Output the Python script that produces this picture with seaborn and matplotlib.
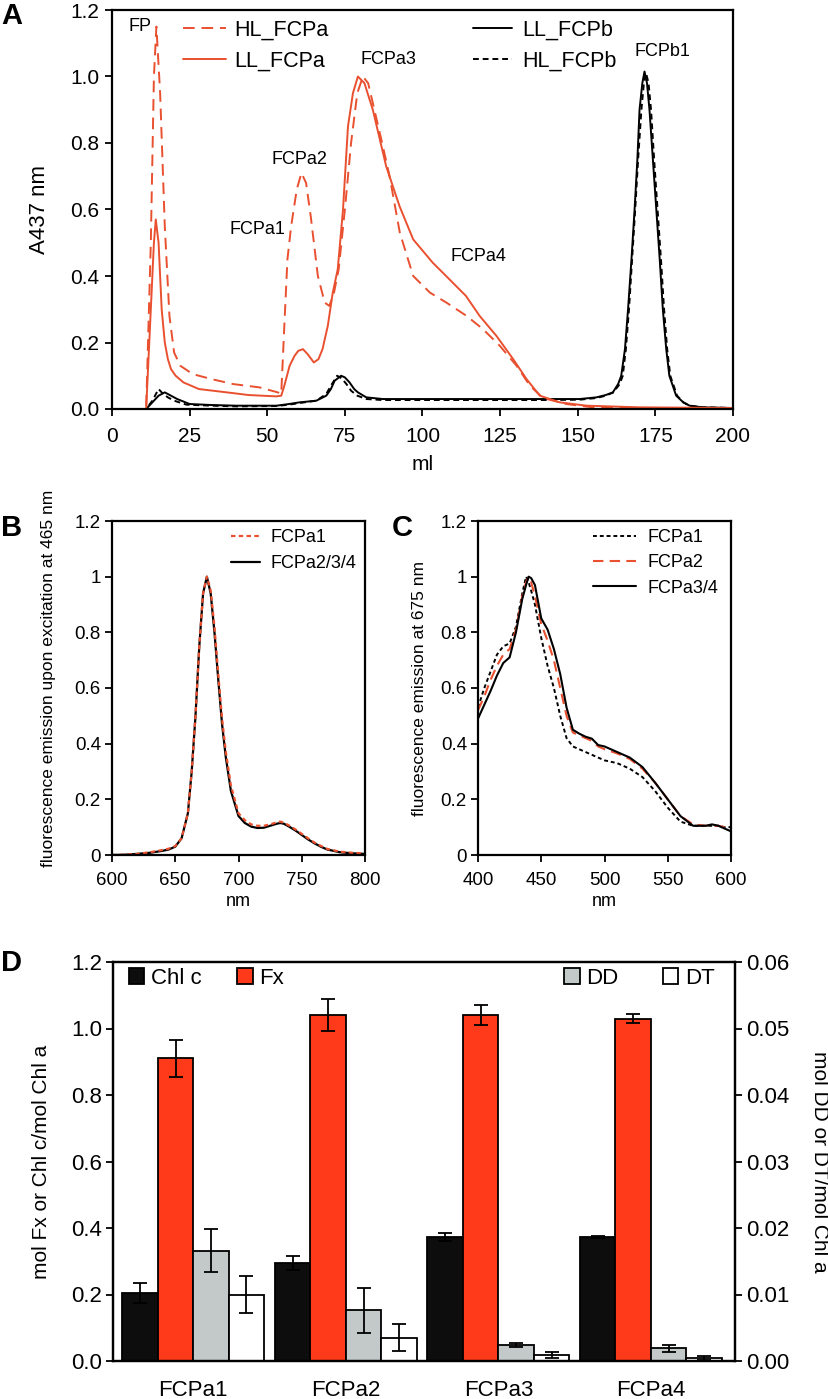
import numpy as np
import pandas as pd
import matplotlib
matplotlib.use("Agg")
import matplotlib.pyplot as plt
import seaborn as sns
from matplotlib.lines import Line2D
from matplotlib.patches import Patch
from matplotlib.ticker import FormatStrFormatter, MultipleLocator

# ---------------- panel A: elution profiles (A437 vs ml) ----------------
hl_fcpa_ml = [0, 11, 12.5, 13.5, 14.3, 15.5, 17, 18.5, 20, 22, 26, 32, 39, 47.5, 53.4, 54.5,
              55.5, 56.5, 57.7, 59.5, 61, 62.5, 64, 66.3, 68.5, 70, 71.5, 73, 75, 77, 79, 80.8,
              82.5, 84.5, 87, 89.4, 92.7, 97, 102.4, 107.7, 114.2, 119.5, 124.9, 130.3, 134.6,
              138.8, 146.3, 154.9, 170, 200]
hl_fcpa_abs = [0, 0, 0.5, 1.0, 1.15, 0.95, 0.55, 0.28, 0.17, 0.13, 0.105, 0.09, 0.075, 0.065,
               0.05, 0.045, 0.25, 0.45, 0.55, 0.66, 0.71, 0.68, 0.58, 0.40, 0.32, 0.31, 0.35,
               0.42, 0.6, 0.8, 0.95, 1.0, 0.98, 0.9, 0.8, 0.7, 0.53, 0.40, 0.35, 0.32, 0.28,
               0.24, 0.19, 0.13, 0.07, 0.033, 0.015, 0.005, 0.003, 0.003]

ll_fcpa_ml = [0, 11, 12.5, 13.5, 14.1, 15, 16, 17, 18, 19, 20.5, 23, 28, 37, 44, 52.9, 54.5,
              55.5, 57.2, 58.8, 60, 61.5, 63, 65, 66.5, 67.8, 69.5, 71.1, 72.7, 74.4, 76, 77.6,
              79.2, 81.3, 84, 88.3, 92.6, 97, 103.3, 107.6, 114, 118.4, 123.8, 129.2, 133.5,
              137.8, 144.2, 152.8, 170, 200]
ll_fcpa_abs = [0, 0, 0.3, 0.5, 0.57, 0.5, 0.3, 0.2, 0.15, 0.12, 0.1, 0.08, 0.06, 0.05, 0.042,
               0.038, 0.04, 0.07, 0.13, 0.16, 0.175, 0.18, 0.165, 0.14, 0.15, 0.18, 0.25, 0.35,
               0.42, 0.6, 0.85, 0.95, 1.0, 0.98, 0.9, 0.73, 0.61, 0.51, 0.44, 0.40, 0.34, 0.28,
               0.22, 0.15, 0.09, 0.04, 0.02, 0.01, 0.005, 0.003]

ll_fcpb_ml = [0, 11, 13, 15, 17, 19, 21, 25, 32, 40, 53, 57, 60.4, 65.8, 69, 70.5, 71.7, 73.8,
              75, 76.5, 78, 79.2, 81.9, 87.2, 100, 120, 140, 150.6, 156, 159, 161.3, 163, 164,
              165.2, 166.2, 167.3, 168.3, 169.2, 169.9, 170.8, 171.5, 172.3, 173.1, 174.2,
              175.3, 176.4, 177.4, 178.5, 179.5, 181.7, 184, 186, 190.3, 200]
ll_fcpb_abs = [0, 0, 0.02, 0.04, 0.05, 0.04, 0.03, 0.015, 0.012, 0.01, 0.01, 0.015, 0.02, 0.025,
               0.04, 0.06, 0.085, 0.1, 0.095, 0.08, 0.06, 0.05, 0.035, 0.03, 0.03, 0.03, 0.03,
               0.03, 0.035, 0.042, 0.05, 0.075, 0.1, 0.18, 0.3, 0.45, 0.6, 0.75, 0.9, 0.98,
               1.015, 0.98, 0.9, 0.75, 0.6, 0.45, 0.3, 0.18, 0.1, 0.04, 0.02, 0.01, 0.005, 0.003]

hl_fcpb_ml = [0, 11, 13, 15, 16.5, 18, 20, 24, 32, 40, 53, 57, 60.4, 65.8, 69, 70.5, 72.5, 74,
              75.5, 77, 79, 82, 87, 100, 120, 140, 150.6, 156, 159, 161.5, 163.5, 164.5, 165.5,
              166.5, 167.5, 168.5, 169.5, 170.5, 171.3, 172, 172.8, 173.6, 174.6, 175.7, 176.8,
              177.8, 178.8, 179.8, 182, 184, 186, 190.3, 200]
hl_fcpb_abs = [0, 0, 0.025, 0.06, 0.045, 0.035, 0.025, 0.013, 0.01, 0.008, 0.009, 0.013, 0.018,
               0.025, 0.045, 0.07, 0.1, 0.092, 0.075, 0.055, 0.04, 0.03, 0.027, 0.027, 0.027,
               0.027, 0.028, 0.033, 0.04, 0.05, 0.075, 0.1, 0.18, 0.3, 0.45, 0.6, 0.76, 0.9,
               0.98, 1.01, 0.98, 0.9, 0.75, 0.6, 0.45, 0.3, 0.18, 0.1, 0.04, 0.02, 0.01, 0.005,
               0.003]

peak_names = ["FP", "FCPa1", "FCPa2", "FCPa3", "FCPa4", "FCPb1"]
peak_ml = [9.0, 47.0, 60.5, 89.0, 118.0, 177.4]
peak_abs = [1.15, 0.54, 0.75, 1.05, 0.46, 1.075]

# ---------------- panel B: emission spectra (excitation 465 nm) ----------------
em_nm = [600, 610, 620, 630, 640, 645, 650, 655, 660, 663, 666, 669, 672, 675, 678, 681, 684,
         687, 690, 694, 700, 705, 710, 715, 720, 725, 730, 733, 736, 740, 745, 750, 755, 760,
         765, 770, 780, 790, 800]
em_fcpa234 = [0, 0.001, 0.004, 0.008, 0.015, 0.02, 0.03, 0.06, 0.15, 0.3, 0.5, 0.75, 0.94, 1.0,
              0.94, 0.8, 0.63, 0.47, 0.35, 0.23, 0.14, 0.115, 0.102, 0.097, 0.098, 0.105, 0.112,
              0.115, 0.112, 0.102, 0.088, 0.072, 0.056, 0.042, 0.03, 0.02, 0.01, 0.006, 0.004]
em_fcpa1 = [0, 0.001, 0.004, 0.01, 0.018, 0.023, 0.032, 0.06, 0.15, 0.3, 0.5, 0.75, 0.94, 1.0,
            0.95, 0.82, 0.65, 0.49, 0.37, 0.25, 0.15, 0.125, 0.11, 0.105, 0.105, 0.11, 0.117,
            0.12, 0.116, 0.106, 0.092, 0.076, 0.06, 0.045, 0.033, 0.022, 0.012, 0.008, 0.006]

# ---------------- panel C: excitation spectra (emission 675 nm) ----------------
ex_nm = [400, 405, 410, 415, 420, 425, 430, 435, 438, 440, 442, 445, 450, 455, 460, 465, 470,
         475, 480, 485, 490, 495, 500, 510, 520, 530, 540, 550, 560, 570, 580, 585, 590, 595, 600]
ex_fcpa34 = [0.49, 0.54, 0.59, 0.645, 0.69, 0.71, 0.8, 0.92, 0.97, 1.0, 0.995, 0.97, 0.85, 0.81,
             0.74, 0.65, 0.53, 0.45, 0.436, 0.425, 0.418, 0.395, 0.39, 0.37, 0.35, 0.316, 0.26,
             0.2, 0.14, 0.105, 0.105, 0.11, 0.105, 0.095, 0.085]
ex_fcpa2 = [0.52, 0.57, 0.63, 0.68, 0.72, 0.74, 0.81, 0.93, 0.98, 1.0, 0.98, 0.93, 0.83, 0.77,
            0.7, 0.6, 0.5, 0.44, 0.43, 0.42, 0.41, 0.39, 0.38, 0.365, 0.345, 0.31, 0.26, 0.2,
            0.14, 0.11, 0.105, 0.105, 0.105, 0.1, 0.095]
ex_fcpa1 = [0.53, 0.6, 0.66, 0.72, 0.75, 0.76, 0.82, 0.94, 1.0, 0.98, 0.95, 0.9, 0.78, 0.68,
            0.6, 0.5, 0.42, 0.39, 0.38, 0.37, 0.36, 0.35, 0.34, 0.33, 0.31, 0.28, 0.23, 0.17,
            0.12, 0.105, 0.105, 0.105, 0.105, 0.1, 0.1]

# ---------------- panel D: pigment ratios ----------------
fractions = ["FCPa1", "FCPa2", "FCPa3", "FCPa4"]
chl_c = [0.205, 0.295, 0.373, 0.373]
chl_c_err = [0.03, 0.022, 0.013, 0.004]
fx = [0.91, 1.04, 1.04, 1.03]
fx_err = [0.055, 0.048, 0.03, 0.013]
dd = [0.0166, 0.00765, 0.00235, 0.0019]        # right axis
dd_err = [0.0032, 0.0034, 0.0003, 0.0005]
dt = [0.0100, 0.0035, 0.0009, 0.0005]          # right axis
dt_err = [0.0028, 0.0020, 0.0005, 0.0003]

RED = "#e9502f"
FX_RED = "#ff3a1a"

sns.set_theme(style="ticks")
plt.rcParams["font.family"] = ["Liberation Sans", "DejaVu Sans"]
plt.rcParams["axes.linewidth"] = 1.6
plt.rcParams["xtick.major.width"] = 1.3
plt.rcParams["ytick.major.width"] = 1.3
plt.rcParams["xtick.major.size"] = 5
plt.rcParams["ytick.major.size"] = 5
plt.rcParams["xtick.direction"] = "out"
plt.rcParams["ytick.direction"] = "out"
plt.rcParams["axes.edgecolor"] = "black"
plt.rcParams["xtick.color"] = "black"
plt.rcParams["ytick.color"] = "black"
plt.rcParams["text.color"] = "black"
plt.rcParams["axes.labelcolor"] = "black"

W, H = 829, 1399
fig = plt.figure(figsize=(W / 100, H / 100), dpi=100)


def add_ax(left, top, right, bottom):
    return fig.add_axes([left / W, 1 - bottom / H, (right - left) / W, (bottom - top) / H])


def line(ax, x, y, color, dashes=None, lw=1.4):
    sns.lineplot(x=x, y=y, ax=ax, color=color, lw=lw, estimator=None, sort=False)
    if dashes is not None:
        ax.lines[-1].set_dashes(dashes)


# ---- A ----
axA = add_ax(112, 10, 733, 409)
line(axA, ll_fcpb_ml, ll_fcpb_abs, "black")
line(axA, hl_fcpb_ml, hl_fcpb_abs, "black", (3, 2))
line(axA, ll_fcpa_ml, ll_fcpa_abs, RED)
line(axA, hl_fcpa_ml, hl_fcpa_abs, RED, (6, 3.5))
axA.set_xlim(0, 200)
axA.set_ylim(0, 1.2)
axA.xaxis.set_major_locator(MultipleLocator(25))
axA.yaxis.set_major_locator(MultipleLocator(0.2))
axA.yaxis.set_major_formatter(FormatStrFormatter("%.1f"))
axA.tick_params(labelsize=15, pad=4)
axA.tick_params(axis="x", pad=8)
axA.set_xlabel("ml", fontsize=15)
axA.set_ylabel("A437 nm", fontsize=16)
axA.yaxis.set_label_coords(-0.1, 0.5)
axA.xaxis.set_label_coords(0.5, -0.115)
for name, px, py in zip(peak_names, peak_ml, peak_abs):
    axA.text(px, py, name, fontsize=13, ha="center", va="center")
legA1 = axA.legend(
    [Line2D([], [], color=RED, lw=1.4, dashes=(6, 3.5)), Line2D([], [], color=RED, lw=1.4)],
    ["HL_FCPa", "LL_FCPa"], loc="upper left", bbox_to_anchor=(0.115, 0.975), frameon=False,
    fontsize=15.5, handlelength=2.0, handletextpad=0.35, borderpad=0, borderaxespad=0,
    labelspacing=0.45)
axA.add_artist(legA1)
axA.legend(
    [Line2D([], [], color="black", lw=1.4), Line2D([], [], color="black", lw=1.4, dashes=(3, 2))],
    ["LL_FCPb", "HL_FCPb"], loc="upper left", bbox_to_anchor=(0.582, 0.975), frameon=False,
    fontsize=15.5, handlelength=1.8, handletextpad=0.45, borderpad=0, borderaxespad=0,
    labelspacing=0.45)

# ---- B ----
axB = add_ax(112, 521, 365, 855)
line(axB, em_nm, em_fcpa234, "black", lw=1.6)
line(axB, em_nm, em_fcpa1, RED, (2, 1.5), lw=1.6)
axB.set_xlim(600, 800)
axB.set_ylim(0, 1.2)
axB.xaxis.set_major_locator(MultipleLocator(50))
axB.yaxis.set_major_locator(MultipleLocator(0.2))
axB.yaxis.set_major_formatter(FormatStrFormatter("%g"))
axB.tick_params(labelsize=13.5, pad=3)
axB.tick_params(axis="x", pad=7)
axB.set_xlabel("nm", fontsize=13)
axB.set_ylabel("fluorescence emission upon excitation at 465 nm", fontsize=12.5)
axB.yaxis.set_label_coords(-0.22, 0.53)
axB.xaxis.set_label_coords(0.5, -0.115)
axB.legend(
    [Line2D([], [], color=RED, lw=1.6, dashes=(2, 1.5)), Line2D([], [], color="black", lw=1.6)],
    ["FCPa1", "FCPa2/3/4"], loc="upper left", bbox_to_anchor=(0.47, 0.975), frameon=False,
    fontsize=13, handlelength=1.6, handletextpad=0.6, borderpad=0, borderaxespad=0,
    labelspacing=0.5)

# ---- C ----
axC = add_ax(478, 521, 731, 855)
line(axC, ex_nm, ex_fcpa1, "black", (2, 1.5), lw=1.4)
line(axC, ex_nm, ex_fcpa2, RED, (5, 3), lw=1.5)
line(axC, ex_nm, ex_fcpa34, "black", lw=1.5)
axC.set_xlim(400, 600)
axC.set_ylim(0, 1.2)
axC.xaxis.set_major_locator(MultipleLocator(50))
axC.yaxis.set_major_locator(MultipleLocator(0.2))
axC.yaxis.set_major_formatter(FormatStrFormatter("%g"))
axC.tick_params(labelsize=13.5, pad=3)
axC.tick_params(axis="x", pad=7)
axC.set_xlabel("nm", fontsize=13)
axC.set_ylabel("fluorescence emission at 675 nm", fontsize=12.5)
axC.yaxis.set_label_coords(-0.2, 0.5)
axC.xaxis.set_label_coords(0.5, -0.115)
axC.legend(
    [Line2D([], [], color="black", lw=1.4, dashes=(2, 1.5)),
     Line2D([], [], color=RED, lw=1.5, dashes=(5, 3)),
     Line2D([], [], color="black", lw=1.5)],
    ["FCPa1", "FCPa2", "FCPa3/4"], loc="upper left", bbox_to_anchor=(0.455, 0.975),
    frameon=False, fontsize=13, handlelength=2.4, handletextpad=0.6, borderpad=0,
    borderaxespad=0, labelspacing=0.45)

# ---- D ----
NARROW = ["Liberation Sans Narrow", "Liberation Sans", "DejaVu Sans"]
scale = 1.2 / 0.06
pigments = ["Chl c", "Fx", "DD", "DT"]
df = pd.DataFrame({
    "fraction": fractions * 4,
    "pigment": np.repeat(pigments, 4),
    "value": chl_c + fx + [v * scale for v in dd] + [v * scale for v in dt],
    "err": chl_c_err + fx_err + [v * scale for v in dd_err] + [v * scale for v in dt_err],
})
axD = add_ax(113, 962, 735, 1361)
sns.barplot(data=df, x="fraction", y="value", hue="pigment", hue_order=pigments,
            order=fractions, palette=["#0d0d0d", FX_RED, "#c2c9c8", "white"], width=0.93,
            saturation=1, edgecolor="black", linewidth=1.3, errorbar=None, legend=False,
            ax=axD)
for pig, cont in zip(pigments, axD.containers):
    sub = df[df["pigment"] == pig]
    xs = [b.get_x() + b.get_width() / 2 for b in cont]
    axD.errorbar(xs, sub["value"], yerr=sub["err"], fmt="none", ecolor="black",
                 elinewidth=1.3, capsize=5, capthick=1.3, zorder=5)
axD.set_xlim(-0.526, 3.551)
axD.set_ylim(0, 1.2)
axD.yaxis.set_major_locator(MultipleLocator(0.2))
axD.yaxis.set_major_formatter(FormatStrFormatter("%.1f"))
axD.set_xlabel("")
axD.set_ylabel("mol Fx or Chl c/mol Chl a", fontsize=15)
axD.yaxis.set_label_coords(-0.1, 0.5)
axD.tick_params(axis="x", length=0, pad=14)
axD.tick_params(axis="y", pad=3)
for lab in axD.get_xticklabels() + axD.get_yticklabels():
    lab.set_family(NARROW)
    lab.set_fontsize(16)
axD2 = axD.twinx()
axD2.set_ylim(0, 0.06)
axD2.yaxis.set_major_locator(MultipleLocator(0.01))
axD2.yaxis.set_major_formatter(FormatStrFormatter("%.2f"))
axD2.tick_params(axis="y", pad=3)
for lab in axD2.get_yticklabels():
    lab.set_family(NARROW)
    lab.set_fontsize(16)
axD2.set_ylabel("mol DD or DT/mol Chl a", fontsize=15, rotation=270, va="bottom")
axD2.yaxis.set_label_coords(1.12, 0.5)
sq = dict(edgecolor="black", linewidth=1.3)
legD1 = axD.legend([Patch(facecolor="#0d0d0d", **sq), Patch(facecolor=FX_RED, **sq)],
                   ["Chl c", "Fx"], loc="upper left", bbox_to_anchor=(0.025, 0.985), ncol=2,
                   frameon=False, handlelength=0.7, handleheight=0.7, handletextpad=0.3,
                   columnspacing=1.6, borderpad=0, borderaxespad=0,
                   prop={"family": NARROW, "size": 16})
axD.add_artist(legD1)
axD.legend([Patch(facecolor="#c2c9c8", **sq), Patch(facecolor="white", **sq)],
           ["DD", "DT"], loc="upper left", bbox_to_anchor=(0.725, 0.985), ncol=2,
           frameon=False, handlelength=0.7, handleheight=0.7, handletextpad=0.3,
           columnspacing=2.0, borderpad=0, borderaxespad=0,
           prop={"family": NARROW, "size": 16})

for letter, lx, ly in [("A", 12, 16), ("B", 12, 528), ("C", 402, 528), ("D", 12, 963)]:
    fig.text(lx / W, 1 - ly / H, letter, fontsize=21, fontweight="bold", ha="center",
             va="center")

fig.savefig("out.png", dpi=100)
